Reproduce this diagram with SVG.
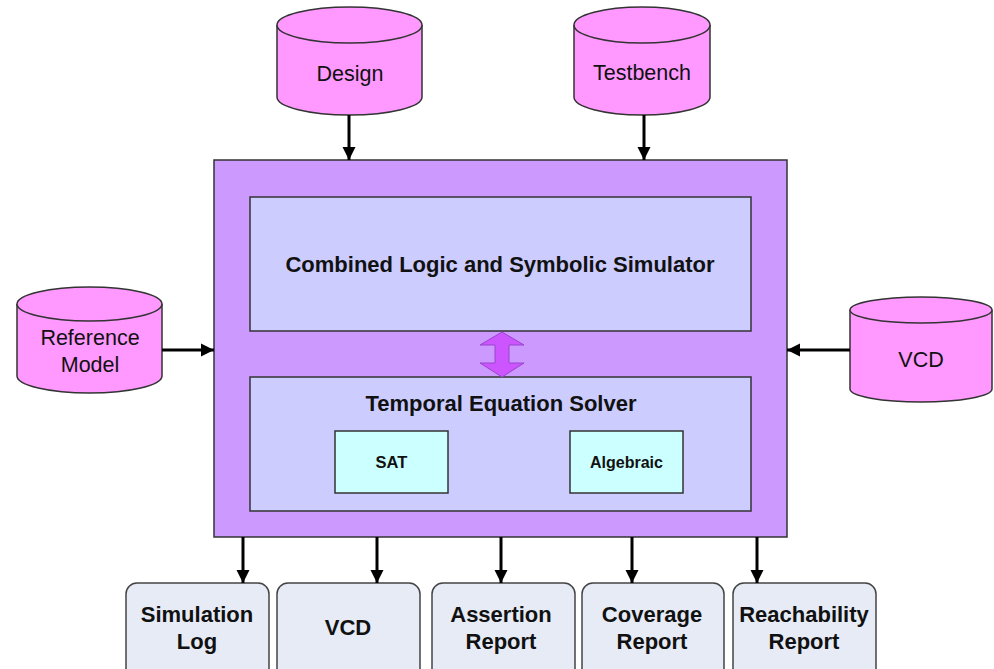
<svg xmlns="http://www.w3.org/2000/svg" width="994" height="669" viewBox="0 0 994 669">
<defs>
<style>
.cyl{fill:#ff99ff;stroke:#333;stroke-width:1.5}
.ct{font-family:"Liberation Sans",Arial,sans-serif;font-size:21.5px;fill:#111;text-anchor:middle}
.bt{font-family:"Liberation Sans",Arial,sans-serif;font-size:22px;font-weight:bold;fill:#111;text-anchor:middle}
.out{fill:#e6ebf6;stroke:#444;stroke-width:1.5}
.conn{stroke:#000;stroke-width:3;fill:none;marker-end:url(#ah)}
</style>
<marker id="ah" viewBox="0 0 10 10" refX="10" refY="5" markerWidth="4.4" markerHeight="4.4" markerUnits="strokeWidth" orient="auto">
<path d="M0,0 L10,5 L0,10 Z" fill="#000"/>
</marker>
</defs>
<rect width="994" height="669" fill="#fff"/>

<g id="main">
<rect x="214" y="160" width="573" height="377" fill="#cc99ff" stroke="#333" stroke-width="1.5"/>
</g>
<g id="simulator">
<rect x="250" y="197" width="501" height="134" fill="#ccccff" stroke="#333" stroke-width="1.5"/>
<text class="bt" x="500" y="272">Combined Logic and Symbolic Simulator</text>
</g>
<g id="solver">
<rect x="250" y="377" width="501" height="134" fill="#ccccff" stroke="#333" stroke-width="1.5"/>
<text class="bt" x="501" y="411">Temporal Equation Solver</text>
</g>
<g id="sat">
<rect x="335" y="431" width="113" height="62" fill="#ccffff" stroke="#333" stroke-width="1.5"/>
<text class="bt" x="391.5" y="468" style="font-size:16.5px">SAT</text>
</g>
<g id="algebraic">
<rect x="570" y="431" width="113" height="62" fill="#ccffff" stroke="#333" stroke-width="1.5"/>
<text class="bt" x="626.5" y="468" style="font-size:16px">Algebraic</text>
</g>
<g id="bidir">
<path d="M502,332 L524,345 L509,345 L509,363 L524,363 L502,377 L480,363 L495,363 L495,345 L480,345 Z" fill="#cc55ff" stroke="#9944cc" stroke-width="1"/>
</g>

<g id="design">
<path class="cyl" d="M277,25 A72.5,18 0 0 1 422,25 V97 A72.5,18 0 0 1 277,97 Z"/>
<path class="cyl" fill="none" d="M277,25 A72.5,18 0 0 0 422,25"/>
<text class="ct" x="350" y="81">Design</text>
</g>
<g id="testbench">
<path class="cyl" d="M574,25 A68,18 0 0 1 710,25 V97 A68,18 0 0 1 574,97 Z"/>
<path class="cyl" fill="none" d="M574,25 A68,18 0 0 0 710,25"/>
<text class="ct" x="642" y="80">Testbench</text>
</g>
<g id="reference">
<path class="cyl" d="M17,304 A72.5,17 0 0 1 162,304 V376 A72.5,17 0 0 1 17,376 Z"/>
<path class="cyl" fill="none" d="M17,304 A72.5,17 0 0 0 162,304"/>
<text class="ct" x="90" y="345">Reference</text>
<text class="ct" x="90" y="372">Model</text>
</g>
<g id="vcdin">
<path class="cyl" d="M850,310 A71,13 0 0 1 992,310 V389 A71,13 0 0 1 850,389 Z"/>
<path class="cyl" fill="none" d="M850,310 A71,13 0 0 0 992,310"/>
<text class="ct" x="921" y="367">VCD</text>
</g>

<g id="simlog">
<rect class="out" x="126" y="583" width="143" height="100" rx="11"/>
<text class="bt" x="197" y="622">Simulation</text>
<text class="bt" x="197" y="649">Log</text>
</g>
<g id="vcdout">
<rect class="out" x="277" y="583" width="143" height="100" rx="11"/>
<text class="bt" x="348" y="635">VCD</text>
</g>
<g id="assertion">
<rect class="out" x="432" y="583" width="143" height="100" rx="11"/>
<text class="bt" x="501" y="622">Assertion</text>
<text class="bt" x="501" y="649">Report</text>
</g>
<g id="coverage">
<rect class="out" x="582" y="583" width="142" height="100" rx="11"/>
<text class="bt" x="652" y="622">Coverage</text>
<text class="bt" x="652" y="649">Report</text>
</g>
<g id="reachability">
<rect class="out" x="733" y="583" width="143" height="100" rx="11"/>
<text class="bt" x="804" y="622">Reachability</text>
<text class="bt" x="804" y="649">Report</text>
</g>

<g id="connectors">
<line class="conn" x1="349" y1="115" x2="349" y2="160"/>
<line class="conn" x1="644" y1="115" x2="644" y2="160"/>
<line class="conn" x1="162" y1="350" x2="214" y2="350"/>
<line class="conn" x1="850" y1="350" x2="787" y2="350"/>
<line class="conn" x1="243" y1="537" x2="243" y2="583"/>
<line class="conn" x1="377" y1="537" x2="377" y2="583"/>
<line class="conn" x1="501" y1="537" x2="501" y2="583"/>
<line class="conn" x1="632" y1="537" x2="632" y2="583"/>
<line class="conn" x1="757" y1="537" x2="757" y2="583"/>
</g>
</svg>
